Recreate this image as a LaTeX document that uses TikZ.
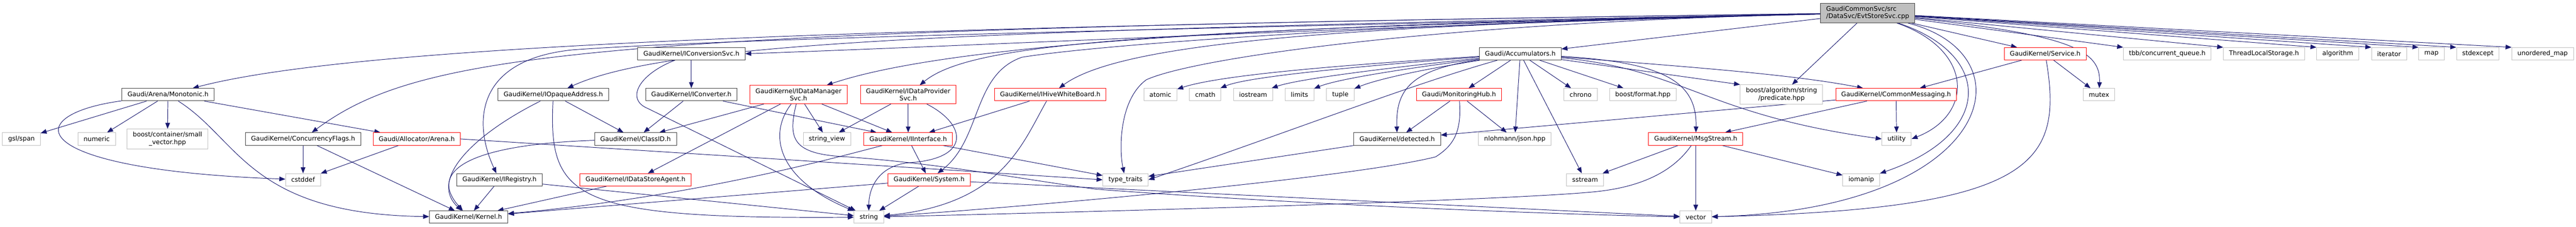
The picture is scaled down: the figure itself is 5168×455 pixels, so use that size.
\documentclass[tikz,border=0pt]{standalone}
\usepackage{fontspec}
\setmainfont{DejaVu Sans}
\usepackage{xcolor}
\usepackage{tikz}
\usetikzlibrary{arrows.meta,backgrounds}
\definecolor{edgeblue}{HTML}{191970}
\definecolor{boxgray}{HTML}{BFBFBF}
\definecolor{boxdark}{HTML}{404040}
\definecolor{boxred}{HTML}{FF0000}

\begin{document}
\begin{tikzpicture}[x=0.75pt,y=-0.75pt,
  filebox/.style={draw,fill=white,line width=0.75pt,inner xsep=8.5pt,inner ysep=4.5pt,
    minimum height=18.75pt,font=\fontsize{9.6}{11.25}\selectfont,align=center},
  blackbox/.style={filebox,draw=boxdark},
  redbox/.style={filebox,draw=boxred},
  graybox/.style={filebox,draw=boxgray},
  rootbox/.style={filebox,draw=boxdark,fill=boxgray,align=left},
  incl/.style={draw=edgeblue,line width=0.75pt,-{Triangle[length=9pt,width=7pt]}}]
\useasboundingbox (0,0) rectangle (5168,455);

\node[rootbox] (root) at (3747,26) {GaudiCommonSvc/src\\/DataSvc/EvtStoreSvc.cpp};

\node[blackbox] (convsvc) at (1387,108) {GaudiKernel/IConversionSvc.h};
\node[blackbox] (accum) at (3050,108) {Gaudi/Accumulators.h};
\node[redbox] (service) at (4103,108) {GaudiKernel/Service.h};
\node[graybox] (tbb) at (4348,108) {tbb/concurrent\_queue.h};
\node[graybox] (tls) at (4542,108) {ThreadLocalStorage.h};
\node[graybox] (algorithm) at (4690,108) {algorithm};
\node[graybox] (iterator) at (4793,108) {iterator};
\node[graybox] (map) at (4878,108) {map};
\node[graybox] (stdexcept) at (4971,108) {stdexcept};
\node[graybox] (umap) at (5101,108) {unordered\_map};

\node[blackbox] (mono) at (337,190) {Gaudi/Arena/Monotonic.h};
\node[blackbox] (opaque) at (1110,190) {GaudiKernel/IOpaqueAddress.h};
\node[blackbox] (converter) at (1387,190) {GaudiKernel/IConverter.h};
\node[redbox] (datamgr) at (1602,190) {GaudiKernel/IDataManager\\Svc.h};
\node[redbox] (dataprov) at (1822,190) {GaudiKernel/IDataProvider\\Svc.h};
\node[redbox] (hivewb) at (2107,190) {GaudiKernel/IHiveWhiteBoard.h};
\node[graybox] (atomic) at (2328,190) {atomic};
\node[graybox] (cmath) at (2418,190) {cmath};
\node[graybox] (iostream) at (2514,190) {iostream};
\node[graybox] (limits) at (2607,190) {limits};
\node[graybox] (tuple) at (2689,190) {tuple};
\node[redbox] (monhub) at (2927,190) {Gaudi/MonitoringHub.h};
\node[graybox] (chrono) at (3171,190) {chrono};
\node[graybox] (bformat) at (3296,190) {boost/format.hpp};
\node[graybox] (predicate) at (3574,190) {boost/algorithm/string\\/predicate.hpp};
\node[redbox] (commsg) at (3804,190) {GaudiKernel/CommonMessaging.h};
\node[graybox] (mutex) at (4211,190) {mutex};

\node[graybox] (gslspan) at (43,279) {gsl/span};
\node[graybox] (numeric) at (194,279) {numeric};
\node[graybox] (smallvec) at (336,279) {boost/container/small\\\_vector.hpp};
\node[blackbox] (concflags) at (608,279) {GaudiKernel/ConcurrencyFlags.h};
\node[redbox] (arena) at (836,279) {Gaudi/Allocator/Arena.h};
\node[blackbox] (classid) at (1275,279) {GaudiKernel/ClassID.h};
\node[graybox] (strview) at (1659,279) {string\_view};
\node[redbox] (iiface) at (1822,279) {GaudiKernel/IInterface.h};
\node[blackbox] (detected) at (2803,279) {GaudiKernel/detected.h};
\node[graybox] (json) at (3039,279) {nlohmann/json.hpp};
\node[redbox] (msgstream) at (3402,279) {GaudiKernel/MsgStream.h};
\node[graybox] (utility) at (3805,279) {utility};

\node[graybox] (cstddef) at (608,361) {cstddef};
\node[blackbox] (iregistry) at (1002,361) {GaudiKernel/IRegistry.h};
\node[redbox] (storeagent) at (1275,361) {GaudiKernel/IDataStoreAgent.h};
\node[redbox] (system) at (1864,361) {GaudiKernel/System.h};
\node[graybox] (typetraits) at (2258,361) {type\_traits};
\node[graybox] (sstream) at (3180,361) {sstream};
\node[graybox] (iomanip) at (3734,361) {iomanip};

\node[blackbox] (kernel) at (940,436) {GaudiKernel/Kernel.h};
\node[graybox] (string) at (1743,436) {string};
\node[graybox] (vector) at (3402,436) {vector};

\begin{scope}[on background layer]
\draw[incl] (root) .. controls (2800,50) and (2000,90) .. (convsvc.east);
\draw[incl] (root) -- (accum);
\draw[incl] (root) .. controls (1600,55) and (700,95) .. (mono);
\draw[incl] (root) .. controls (1200,60) and (850,100) .. (concflags);
\draw[incl] (root) .. controls (2000,60) and (1350,80) .. (opaque);
\draw[incl] (root) .. controls (2500,55) and (1500,75) .. (1150,100) .. controls (950,120) and (950,250) .. (iregistry);
\draw[incl] (root) .. controls (2500,50) and (1900,90) .. (datamgr);
\draw[incl] (root) .. controls (2300,60) and (1950,85) .. (dataprov);
\draw[incl] (root) .. controls (2700,50) and (2250,85) .. (hivewb);
\draw[incl] (root) .. controls (2800,45) and (2200,90) .. (2050,115) .. controls (1950,150) and (1970,280) .. (system);
\draw[incl] (root) .. controls (2900,45) and (2400,115) .. (2300,160) .. controls (2245,200) and (2245,300) .. (typetraits);
\draw[incl] (root) -- (predicate);
\draw[incl] (root) -- (service);
\draw[incl] (root) .. controls (4150,70) and (4215,100) .. (mutex);
\draw[incl] (root) -- (tbb.north west);
\draw[incl] (root) -- (tls.north west);
\draw[incl] (root) -- (algorithm.north west);
\draw[incl] (root) -- (iterator.north west);
\draw[incl] (root) -- (map.north west);
\draw[incl] (root) -- (stdexcept.north west);
\draw[incl] (root) -- (umap.north west);
\draw[incl] (root) .. controls (3960,100) and (3960,230) .. (utility.east);
\draw[incl] (root) .. controls (4000,110) and (4000,270) .. (iomanip);
\draw[incl] (root) .. controls (4080,110) and (4000,420) .. (vector);

\draw[incl] (service) -- (commsg);
\draw[incl] (service) -- (mutex);
\draw[incl] (service) .. controls (4140,330) and (4080,420) .. (vector);

\draw[incl] (accum) .. controls (2700,130) and (2450,150) .. (atomic);
\draw[incl] (accum) .. controls (2700,135) and (2500,155) .. (cmath);
\draw[incl] (accum) .. controls (2750,140) and (2600,160) .. (iostream);
\draw[incl] (accum) .. controls (2800,140) and (2680,160) .. (limits);
\draw[incl] (accum) .. controls (2850,140) and (2760,160) .. (tuple);
\draw[incl] (accum) .. controls (2830,170) and (2600,260) .. (typetraits.east);
\draw[incl] (accum) .. controls (2830,140) and (2800,180) .. (detected);
\draw[incl] (accum) -- (monhub);
\draw[incl] (accum) -- (json);
\draw[incl] (accum) -- (sstream);
\draw[incl] (accum) -- (chrono);
\draw[incl] (accum) -- (bformat);
\draw[incl] (accum) .. controls (3330,125) and (3405,160) .. (msgstream);
\draw[incl] (accum) .. controls (3400,135) and (3600,150) .. (commsg);
\draw[incl] (accum) -- (predicate.north west);
\draw[incl] (accum) .. controls (3380,140) and (3420,230) .. (utility.west);

\draw[incl] (monhub) -- (detected);
\draw[incl] (monhub) -- (json);
\draw[incl] (monhub) .. controls (2932,260) and (2920,290) .. (2880,315) .. controls (2700,360) and (2000,420) .. (string);
\draw[incl] (detected) -- (typetraits);

\draw[incl] (commsg) -- (msgstream);
\draw[incl] (commsg) -- (utility);
\draw[incl] (commsg) -- (detected);

\draw[incl] (msgstream) -- (sstream);
\draw[incl] (msgstream) .. controls (3360,340) and (3300,375) .. (3200,385) .. controls (3000,405) and (2000,430) .. (string);
\draw[incl] (msgstream) -- (vector);
\draw[incl] (msgstream) -- (iomanip);

\draw[incl] (mono) -- (gslspan);
\draw[incl] (mono) -- (numeric);
\draw[incl] (mono) -- (smallvec);
\draw[incl] (mono) .. controls (40,230) and (40,340) .. (cstddef);
\draw[incl] (mono) .. controls (480,280) and (500,430) .. (kernel);
\draw[incl] (mono) -- (arena);
\draw[incl] (concflags) -- (cstddef);
\draw[incl] (concflags) -- (kernel);
\draw[incl] (arena) -- (cstddef);
\draw[incl] (arena.east) -- (typetraits.west);

\draw[incl] (opaque) .. controls (950,270) and (860,360) .. (kernel);
\draw[incl] (opaque) -- (classid);
\draw[incl] (opaque) .. controls (1100,400) and (1150,440) .. (string);

\draw[incl] (convsvc) -- (converter);
\draw[incl] (convsvc) .. controls (1280,150) and (1255,200) .. (1300,218) -- (string);
\draw[incl] (converter) -- (classid);
\draw[incl] (converter) -- (iiface);

\draw[incl] (datamgr) -- (classid);
\draw[incl] (datamgr) -- (storeagent);
\draw[incl] (datamgr) .. controls (1540,270) and (1560,360) .. (string);
\draw[incl] (datamgr) .. controls (1580,280) and (1590,310) .. (1700,315) .. controls (1900,330) and (2050,360) .. (2200,380) .. controls (2600,410) and (3100,430) .. (vector);
\draw[incl] (datamgr) -- (strview);
\draw[incl] (datamgr) -- (iiface);

\draw[incl] (dataprov) -- (strview);
\draw[incl] (dataprov) -- (iiface);
\draw[incl] (dataprov) .. controls (1940,250) and (1950,320) .. (1820,327) .. controls (1760,335) and (1743,380) .. (string);

\draw[incl] (hivewb) -- (iiface);
\draw[incl] (hivewb) .. controls (2050,290) and (2010,410) .. (string);

\draw[incl] (iiface) -- (system);
\draw[incl] (iiface) .. controls (1700,310) and (1400,395) .. (kernel);
\draw[incl] (iiface) -- (typetraits);

\draw[incl] (system) -- (string);
\draw[incl] (system) -- (kernel);
\draw[incl] (system) -- (vector);

\draw[incl] (storeagent) -- (kernel);
\draw[incl] (iregistry) -- (kernel);
\draw[incl] (iregistry) -- (string);
\draw[incl] (classid) .. controls (950,290) and (855,340) .. (kernel);
\end{scope}
\end{tikzpicture}
\end{document}
